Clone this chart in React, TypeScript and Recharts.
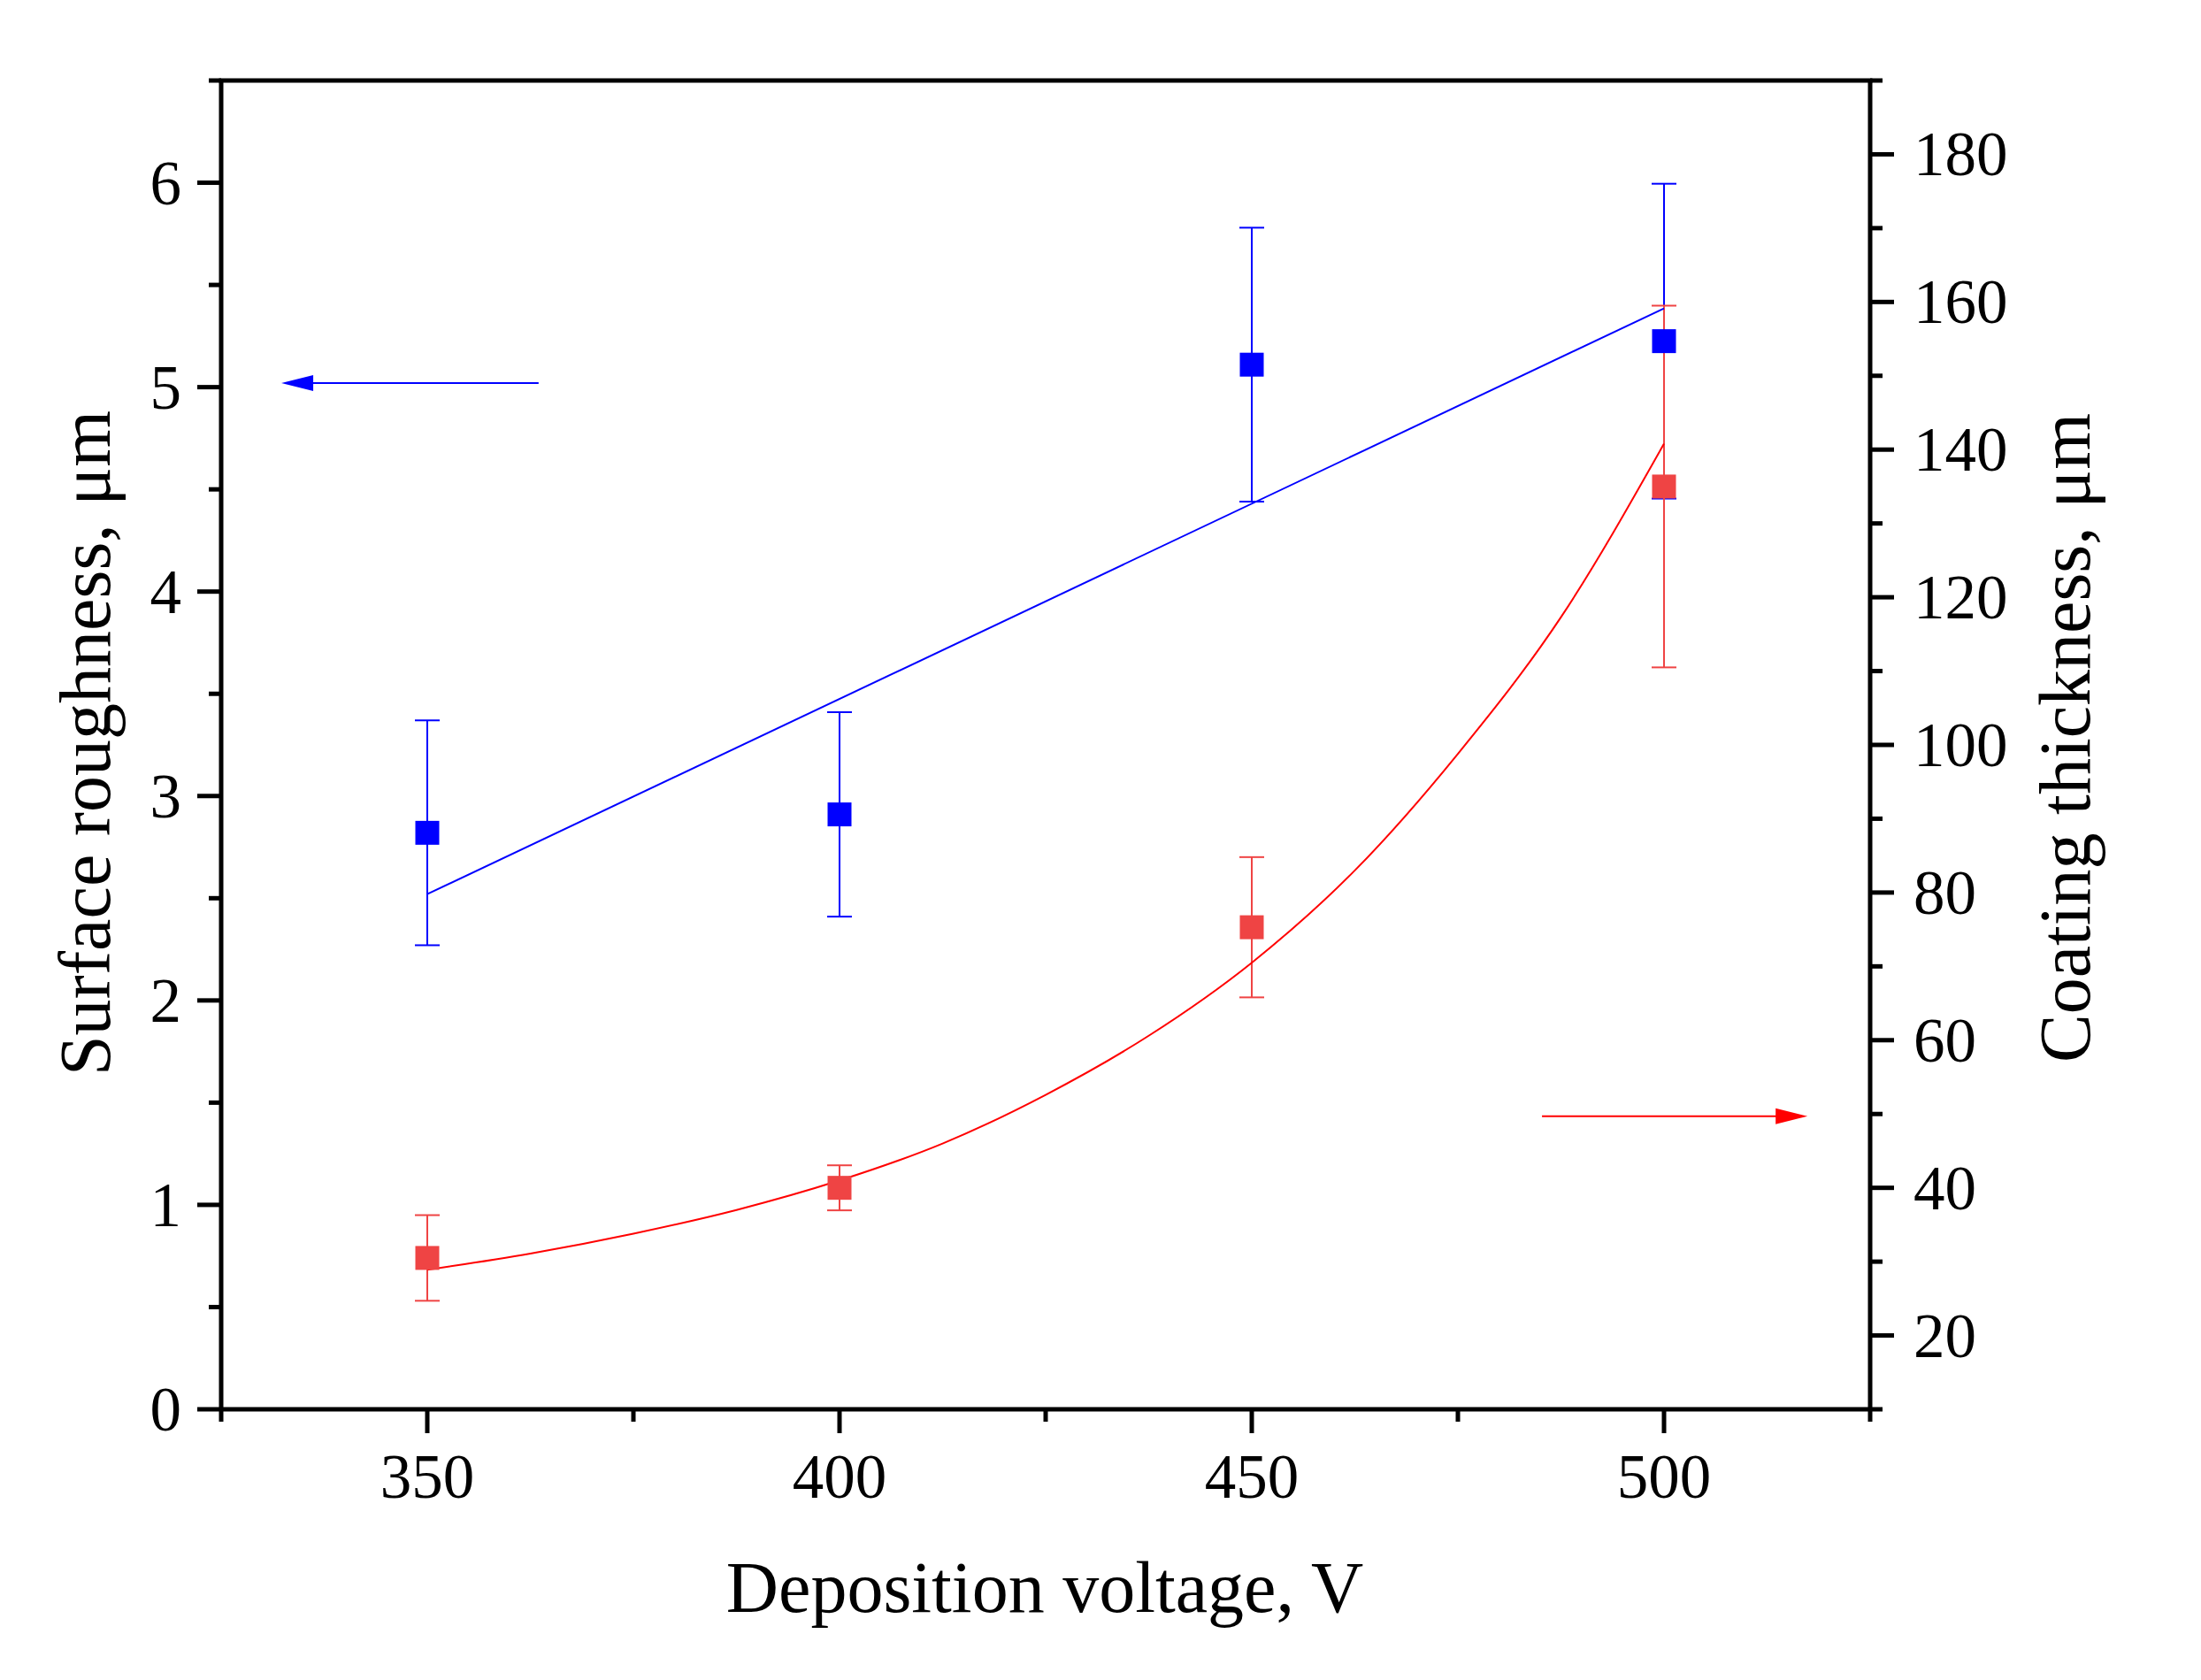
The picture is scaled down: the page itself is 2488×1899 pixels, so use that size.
import React from 'react';
import {
    ComposedChart,
    XAxis,
    YAxis,
    Scatter,
    Line,
    ErrorBar,
    ReferenceLine,
    Label,
} from 'recharts';

// measured values (deposition voltage, V)
const voltages = [350, 400, 450, 500];
const roughness = [2.82, 2.91, 5.11, 5.225];
const roughnessErr = [0.55, 0.5, 0.67, 0.77];
const thickness = [30.5, 40.0, 75.3, 135.0];
const thicknessErr = [5.8, 3.05, 9.5, 24.5];

// fitted curves
const roughFitV = [350, 500];
const roughFit = [2.52, 5.385];
const thickFitV = [350, 362.5, 375, 387.5, 400, 412.5, 425, 437.5, 450, 462.5, 475, 487.5, 500];
const thickFit = [28.9, 31.1, 33.8, 37.0, 41.0, 46.0, 52.6, 60.6, 70.5, 83.0, 98.8, 117.3, 140.8];

// ticks
const xMajor = [350, 400, 450, 500];
const xMinor = [325, 375, 425, 475, 525];
const leftMajor = [0, 1, 2, 3, 4, 5, 6];
const leftMinor = [0.5, 1.5, 2.5, 3.5, 4.5, 5.5, 6.5];
const rightMajor = [20, 40, 60, 80, 100, 120, 140, 160, 180];
const rightMinor = [10, 30, 50, 70, 90, 110, 130, 150, 170, 190];

// arrows pointing at the axis each series belongs to
const leftArrow = [{ x: 363.5, y: 5.02 }, { x: 332.3, y: 5.02 }];
const rightArrow = [{ x: 485.2, y: 49.7 }, { x: 517.4, y: 49.7 }];

const BLUE = '#0000FF';
const RED = '#FF0000';
const RED_MARK = '#EF4444';
const FONT = '"Liberation Serif", "Times New Roman", serif';
const TICK_FS = 71;
const TITLE_FS = 82;

const W = 2488;
const H = 1899;
const PLOT = { left: 250, top: 91, right: 2114, bottom: 1593 };
const MAJOR = 27;
const MINOR = 14;

const roughData = voltages.map((v, i) => ({ v, y: roughness[i], err: roughnessErr[i] }));
const thickData = voltages.map((v, i) => ({ v, y: thickness[i], err: thicknessErr[i] }));
const roughFitData = roughFitV.map((v, i) => ({ v, y: roughFit[i] }));
const thickFitData = thickFitV.map((v, i) => ({ v, y: thickFit[i] }));

const sortNum = (a: number[]) => [...a].sort((p, q) => p - q);

const BottomTick = (p: any) => {
    const { x, y, payload } = p;
    const major = xMajor.includes(payload.value);
    return (
        <g>
            <line x1={x} y1={y} x2={x} y2={y + (major ? MAJOR : MINOR)} stroke="#000" strokeWidth={5} />
            {major && (
                <text x={x} y={y + 100} textAnchor="middle" fontFamily={FONT} fontSize={TICK_FS} fill="#000">
                    {payload.value}
                </text>
            )}
        </g>
    );
};

const LeftTick = (p: any) => {
    const { x, y, payload } = p;
    const major = leftMajor.includes(payload.value);
    return (
        <g>
            <line x1={x - (major ? MAJOR : MINOR)} y1={y} x2={x} y2={y} stroke="#000" strokeWidth={5} />
            {major && (
                <text x={x - 45} y={y + 24} textAnchor="end" fontFamily={FONT} fontSize={TICK_FS} fill="#000">
                    {payload.value}
                </text>
            )}
        </g>
    );
};

const RightTick = (p: any) => {
    const { x, y, payload } = p;
    const major = rightMajor.includes(payload.value);
    return (
        <g>
            <line x1={x} y1={y} x2={x + (major ? MAJOR : MINOR)} y2={y} stroke="#000" strokeWidth={5} />
            {major && (
                <text x={x + 49} y={y + 24} textAnchor="start" fontFamily={FONT} fontSize={TICK_FS} fill="#000">
                    {payload.value}
                </text>
            )}
        </g>
    );
};

const square = (color: string) => (p: any) => (
    <rect x={p.cx - 13.5} y={p.cy - 13.5} width={27} height={27} fill={color} />
);

const arrow = (color: string) => (p: any) => {
    const { x1, y1, x2, y2 } = p;
    const dir = Math.sign(x2 - x1);
    return (
        <g>
            <line x1={x1} y1={y1} x2={x2 - dir * 20} y2={y2} stroke={color} strokeWidth={2} />
            <polygon
                points={`${x2},${y2} ${x2 - dir * 36},${y2 - 9} ${x2 - dir * 36},${y2 + 9}`}
                fill={color}
            />
        </g>
    );
};

export default function App() {
    return (
        <div style={{ position: 'absolute', left: 0, top: 0, width: W, height: H, background: '#fff' }}>
            <ComposedChart
                width={W}
                height={H}
                margin={{ top: PLOT.top, left: PLOT.left - 150, right: W - PLOT.right - 250, bottom: H - PLOT.bottom - 200 }}
            >
                <XAxis
                    dataKey="v"
                    type="number"
                    domain={[325, 525]}
                    ticks={sortNum([...xMajor, ...xMinor])}
                    interval={0}
                    tickSize={0}
                    tickMargin={0}
                    tickLine={false}
                    tick={BottomTick}
                    axisLine={{ stroke: '#000', strokeWidth: 5 }}
                    height={200}
                    allowDataOverflow
                >
                    <Label
                        content={() => (
                            <text x={1181} y={1822} textAnchor="middle" fontFamily={FONT} fontSize={TITLE_FS} fill="#000">
                                Deposition voltage, V
                            </text>
                        )}
                    />
                </XAxis>
                <YAxis
                    yAxisId="l"
                    type="number"
                    domain={[0, 6.5]}
                    ticks={sortNum([...leftMajor, ...leftMinor])}
                    interval={0}
                    tickSize={0}
                    tickMargin={0}
                    tickLine={false}
                    tick={LeftTick}
                    axisLine={{ stroke: '#000', strokeWidth: 5 }}
                    width={150}
                    allowDataOverflow
                >
                    <Label
                        content={() => (
                            <text
                                x={124}
                                y={840}
                                transform={`rotate(-90, 124, 840)`}
                                textAnchor="middle"
                                fontFamily={FONT}
                                fontSize={TITLE_FS}
                                fill="#000"
                            >
                                Surface roughness, μm
                            </text>
                        )}
                    />
                </YAxis>
                <YAxis
                    yAxisId="r"
                    orientation="right"
                    type="number"
                    domain={[10, 190]}
                    ticks={sortNum([...rightMajor, ...rightMinor])}
                    interval={0}
                    tickSize={0}
                    tickMargin={0}
                    tickLine={false}
                    tick={RightTick}
                    axisLine={{ stroke: '#000', strokeWidth: 5 }}
                    width={250}
                    allowDataOverflow
                >
                    <Label
                        content={() => (
                            <text
                                x={2362}
                                y={834}
                                transform={`rotate(-90, 2362, 834)`}
                                textAnchor="middle"
                                fontFamily={FONT}
                                fontSize={TITLE_FS}
                                fill="#000"
                            >
                                Coating thickness, μm
                            </text>
                        )}
                    />
                </YAxis>

                {/* top frame */}
                <ReferenceLine yAxisId="l" y={6.5} stroke="#000" strokeWidth={5} strokeLinecap="square" ifOverflow="visible" />

                <Scatter yAxisId="l" data={roughData} dataKey="y" fill={BLUE} shape={square(BLUE)} isAnimationActive={false}>
                    <ErrorBar dataKey="err" direction="y" width={14} stroke={BLUE} strokeWidth={2} isAnimationActive={false} />
                </Scatter>
                <Scatter yAxisId="r" data={thickData} dataKey="y" fill={RED_MARK} shape={square(RED_MARK)} isAnimationActive={false}>
                    <ErrorBar dataKey="err" direction="y" width={14} stroke={RED_MARK} strokeWidth={2} isAnimationActive={false} />
                </Scatter>
                <Line
                    yAxisId="l"
                    data={roughFitData}
                    dataKey="y"
                    type="linear"
                    stroke={BLUE}
                    strokeWidth={2}
                    dot={false}
                    activeDot={false}
                    isAnimationActive={false}
                />
                <Line
                    yAxisId="r"
                    data={thickFitData}
                    dataKey="y"
                    type="monotone"
                    stroke={RED}
                    strokeWidth={2}
                    dot={false}
                    activeDot={false}
                    isAnimationActive={false}
                />

                <ReferenceLine yAxisId="l" segment={leftArrow} shape={arrow(BLUE)} ifOverflow="visible" />
                <ReferenceLine yAxisId="r" segment={rightArrow} shape={arrow(RED)} ifOverflow="visible" />
            </ComposedChart>
        </div>
    );
}
